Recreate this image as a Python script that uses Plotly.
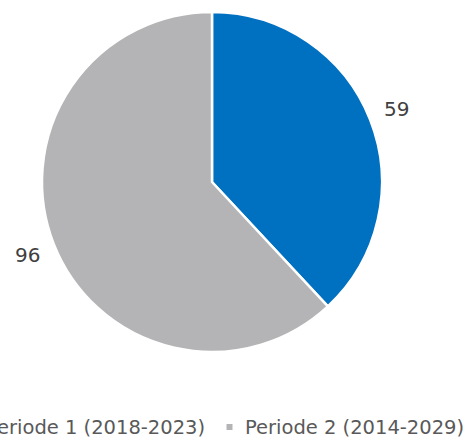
import math
import plotly.graph_objects as go

# Data
periods = ["Periode 1 (2018-2023)", "Periode 2 (2014-2029)"]
counts = [59, 96]
colors = ["#0070C0", "#B4B4B6"]

W, H = 468, 442
FONT = "Century Gothic, DejaVu Sans, sans-serif"

# Pie geometry in pixels
CX, CY, R = 212, 182, 170
LABEL_R = 198

fig = go.Figure(
    go.Pie(
        labels=periods,
        values=counts,
        sort=False,
        direction="clockwise",
        rotation=0,
        marker=dict(colors=colors, line=dict(color="white", width=2.5)),
        textinfo="none",
        domain=dict(x=[(CX - R) / W, (CX + R) / W],
                    y=[(H - CY - R) / H, (H - CY + R) / H]),
        showlegend=False,
        hoverinfo="label+value",
    )
)

# Value labels placed outside each slice at its mid-angle
total = sum(counts)
cum = 0
for v in counts:
    theta = 2 * math.pi * (cum + v / 2) / total
    cum += v
    px = CX + LABEL_R * math.sin(theta)
    py = CY - LABEL_R * math.cos(theta)
    fig.add_annotation(
        text=str(v), xref="paper", yref="paper",
        x=px / W, y=(H - py) / H, xanchor="center", yanchor="middle",
        showarrow=False,
        font=dict(family=FONT, size=20, color="#404040"),
    )

# Legend: small coloured squares with their period names
LEG_Y = (H - 427) / H
legend_items = [
    # (square x, text x, text anchor)
    (-30, 207, "right"),
    (229.5, 243, "left"),
]
for name, color, (sx, tx, anchor) in zip(periods, colors, legend_items):
    fig.add_annotation(
        text=name, xref="paper", yref="paper", x=tx / W, y=LEG_Y,
        xanchor=anchor, yanchor="middle", showarrow=False,
        font=dict(family=FONT, size=19.5, color="#595959"),
    )
    fig.add_shape(
        type="rect", xref="paper", yref="paper",
        x0=(sx - 3) / W, x1=(sx + 3) / W,
        y0=(H - 430) / H, y1=(H - 424) / H,
        fillcolor=color, line=dict(width=0),
    )

fig.update_layout(
    width=W, height=H,
    margin=dict(l=0, r=0, t=0, b=0),
    paper_bgcolor="white",
    plot_bgcolor="white",
)

fig.write_html("out.html")
